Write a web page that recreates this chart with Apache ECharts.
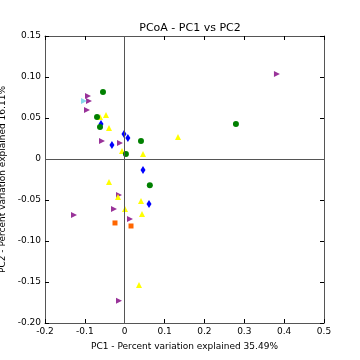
<!DOCTYPE html>
<html><head><meta charset="utf-8">
<script src="https://cdn.jsdelivr.net/npm/echarts@6/dist/echarts.min.js"></script>
<style>html,body{margin:0;padding:0;background:#fff}#c{width:360px;height:360px}</style>
</head><body><div id="c"></div>
<script>
var title = "PCoA - PC1 vs PC2";
var xLabel = "PC1 - Percent variation explained 35.49%";
var yLabel = "PC2 - Percent variation explained 16.11%";

var greenPts = [[-0.0545,0.0817],[-0.0695,0.0512],[-0.062,0.039],[0.0408,0.022],[0.003,0.006],[0.063,-0.032],[0.279,0.0427]];
var bluePts = [[-0.0595,0.0427],[-0.032,0.017],[-0.0018,0.0305],[0.008,0.0256],[0.0459,-0.0134],[0.061,-0.055]];
var yellowPts = [[-0.062,0.0512],[-0.047,0.0537],[-0.0394,0.0378],[-0.0068,0.0098],[0.0459,0.0061],[0.1337,0.0268],[-0.0394,-0.028],[-0.0169,-0.0463],[0.0408,-0.0512],[0.0007,-0.061],[0.0434,-0.067],[0.0358,-0.1537]];
var purplePts = [[-0.0921,0.0768],[-0.0896,0.0707],[-0.0946,0.0598],[-0.057,0.022],[-0.0118,0.0195],[-0.0144,-0.0439],[-0.0269,-0.061],[-0.1272,-0.0683],[0.0132,-0.0732],[-0.0144,-0.173],[0.382,0.1037]];
var cyanPts = [[-0.1022,0.0707]];
var orangePts = [[-0.0244,-0.078],[0.0158,-0.0817]];

var FONT = "DejaVu Sans";
var chart = echarts.init(document.getElementById('c'), null, {renderer:'canvas'});
function axisBase(pos, showLabel, isX){
  return {
    type:'value', position:pos, min: -0.2, max: isX?0.5:0.15, interval: isX?0.1:0.05,
    axisLine:{show:true, onZero:false, lineStyle:{color:'#555', width:1}},
    axisTick:{show:true, inside:true, length:4, lineStyle:{color:'#000'}},
    axisLabel:{show:showLabel, color:'#000', fontFamily:FONT, fontSize:9, margin:4},
    splitLine:{show:false}
  };
}
function fmtX(v){ var s = v.toFixed(1); return (s==='-0.0'||s==='0.0')?'0':s; }
function fmtY(v){ var s = v.toFixed(2); return (s==='0.00'||s==='-0.00')?'0':s; }

var xMain = axisBase('bottom', true, true);
xMain.name = xLabel; xMain.nameLocation='middle'; xMain.nameGap=19;
xMain.nameTextStyle={fontFamily:FONT,fontSize:9,color:'#000'};
xMain.axisLabel.formatter = fmtX;
var xTop = axisBase('top', false, true);
var yMain = axisBase('left', true, false);
yMain.name = yLabel; yMain.nameLocation='middle'; yMain.nameGap=36;
yMain.nameTextStyle={fontFamily:FONT,fontSize:9,color:'#000'};
yMain.axisLabel.formatter = fmtY;
var yRight = axisBase('right', false, false);

function sc(data, color, symbol, size, rot){
  return {type:'scatter', xAxisIndex:0, yAxisIndex:0, data:data, symbol:symbol, symbolSize:size,
    symbolRotate:rot||0, itemStyle:{color:color, opacity:1}, silent:true, z:3};
}
var series = [
  {type:'scatter', xAxisIndex:0, yAxisIndex:0, data:[], silent:true,
   markLine:{silent:true, symbol:['none','none'], label:{show:false},
     lineStyle:{color:'#555', width:1, type:'solid'},
     data:[{xAxis:0},{yAxis:0}]}},
  sc(purplePts, '#993399', 'triangle', 6, -90),
  sc(cyanPts, '#88d8ea', 'triangle', 6, -90),
  sc(yellowPts, '#ffff00', 'triangle', 6),
  sc(orangePts, '#ff6600', 'rect', 5),
  sc(bluePts, '#0000ff', 'diamond', [5,8]),
  sc(greenPts, '#008000', 'circle', 6)
];

chart.setOption({
  animation:false,
  backgroundColor:'#fff',
  title:{text:title, left:185, textAlign:'center', top:18, textStyle:{fontFamily:FONT, fontSize:11, fontWeight:'normal', color:'#000'}},
  grid:{left:45, right:36, top:36, bottom:37, containLabel:false, outerBoundsMode:'none'},
  xAxis:[xMain, xTop],
  yAxis:[yMain, yRight],
  series:series
});
</script></body></html>
